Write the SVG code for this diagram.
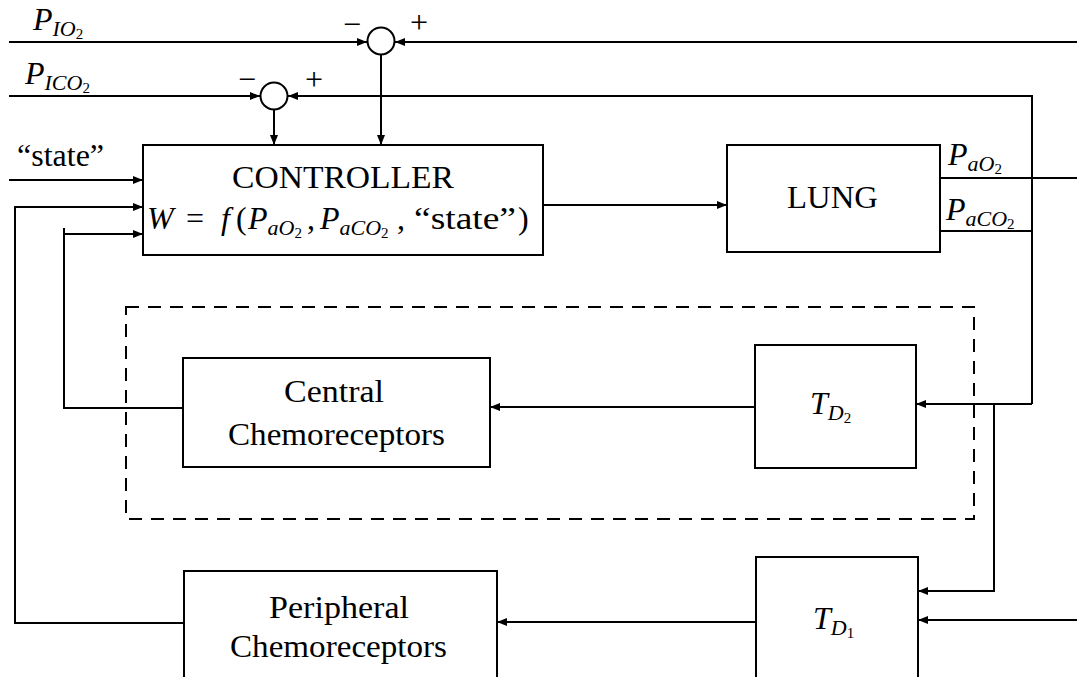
<svg xmlns="http://www.w3.org/2000/svg" width="1077" height="677" viewBox="0 0 1077 677">
<style>
.ln{fill:none;stroke:#000;stroke-width:2}
.bx{fill:#fff;stroke:#000;stroke-width:2}
.ds{fill:none;stroke:#000;stroke-width:2;stroke-dasharray:13 9}
text{font-family:"Liberation Serif","DejaVu Serif",serif;fill:#000}
.t{font-size:32px}
.i{font-style:italic}
.s1{font-size:22px;font-style:italic}
.s2{font-size:15px;font-style:normal}
.sg{font-size:32px;text-anchor:middle}
</style>
<defs>
<marker id="ah" viewBox="0 0 10 8" refX="10" refY="4" markerWidth="10" markerHeight="8" markerUnits="userSpaceOnUse" orient="auto">
<path d="M0,0 L10,4 L0,8 Z" fill="#000"/>
</marker>
</defs>

<g id="connectors">
<path class="ln" d="M9,42 H367" marker-end="url(#ah)"/>
<path class="ln" d="M1077,42 H395" marker-end="url(#ah)"/>
<path class="ln" d="M381,55 V145" marker-end="url(#ah)"/>
<path class="ln" d="M9,96 H260" marker-end="url(#ah)"/>
<path class="ln" d="M1032,404 V96 H288" marker-end="url(#ah)"/>
<path class="ln" d="M274,109 V145" marker-end="url(#ah)"/>
<path class="ln" d="M9,180 H143" marker-end="url(#ah)"/>
<path class="ln" d="M184,623 H15 V207 H143" marker-end="url(#ah)"/>
<path class="ln" d="M183,408 H64 V228"/>
<path class="ln" d="M64,234 H143" marker-end="url(#ah)"/>
<path class="ln" d="M543,205 H727" marker-end="url(#ah)"/>
<path class="ln" d="M940,178 H1077"/>
<path class="ln" d="M940,231 H1032"/>
<path class="ln" d="M1032,404 H916" marker-end="url(#ah)"/>
<path class="ln" d="M994,404 V591 H918" marker-end="url(#ah)"/>
<path class="ln" d="M1077,620 H918" marker-end="url(#ah)"/>
<path class="ln" d="M755,407 H490" marker-end="url(#ah)"/>
<path class="ln" d="M756,622 H497" marker-end="url(#ah)"/>
</g>

<g id="frame">
<rect class="ds" x="126" y="307" width="848" height="212"/>
</g>

<g id="sum-o2">
<circle class="bx" cx="381" cy="41" r="13.5"/>
<text class="sg" x="352" y="35">−</text>
<text class="sg" x="419" y="33">+</text>
</g>
<g id="sum-co2">
<circle class="bx" cx="274" cy="96" r="13.5"/>
<text class="sg" x="247" y="90">−</text>
<text class="sg" x="314" y="90">+</text>
</g>

<g id="labels">
<text class="t" x="33" y="30"><tspan class="i">P</tspan><tspan class="s1" dy="6">IO</tspan><tspan class="s2" dy="3">2</tspan></text>
<text class="t" x="25" y="84"><tspan class="i">P</tspan><tspan class="s1" dy="6">ICO</tspan><tspan class="s2" dy="3">2</tspan></text>
<text class="t" x="17" y="166">“state”</text>
<text class="t" x="948" y="165"><tspan class="i">P</tspan><tspan class="s1" dy="6">aO</tspan><tspan class="s2" dy="3">2</tspan></text>
<text class="t" x="946" y="220"><tspan class="i">P</tspan><tspan class="s1" dy="6">aCO</tspan><tspan class="s2" dy="3">2</tspan></text>
</g>

<g id="controller">
<rect class="bx" x="143" y="145" width="400" height="110"/>
<text class="t" x="232" y="188" textLength="222" lengthAdjust="spacingAndGlyphs">CONTROLLER</text>
<text class="t i" x="147" y="229">W</text>
<text class="t" x="186" y="229">=</text>
<text class="t i" x="221" y="229">f</text>
<text class="t" x="236" y="229">(</text>
<text class="t" x="248" y="229"><tspan class="i">P</tspan><tspan class="s1" dy="6">aO</tspan><tspan class="s2" dy="3">2</tspan></text>
<text class="t" x="307" y="229">,</text>
<text class="t" x="320" y="229"><tspan class="i">P</tspan><tspan class="s1" dy="6">aCO</tspan><tspan class="s2" dy="3">2</tspan></text>
<text class="t" x="397" y="229">,</text>
<text class="t" x="414" y="229" textLength="102" lengthAdjust="spacingAndGlyphs">“state”</text>
<text class="t" x="518" y="229">)</text>
</g>

<g id="lung">
<rect class="bx" x="727" y="145" width="213" height="107"/>
<text class="t" x="787" y="208" textLength="91" lengthAdjust="spacingAndGlyphs">LUNG</text>
</g>

<g id="central">
<rect class="bx" x="183" y="358" width="307" height="109"/>
<text class="t" x="284" y="402" textLength="100" lengthAdjust="spacingAndGlyphs">Central</text>
<text class="t" x="228" y="445" textLength="217" lengthAdjust="spacingAndGlyphs">Chemoreceptors</text>
</g>

<g id="td2">
<rect class="bx" x="755" y="345" width="161" height="123"/>
<text class="t" x="810" y="414"><tspan class="i">T</tspan><tspan class="s1" dy="6">D</tspan><tspan class="s2" dy="3">2</tspan></text>
</g>

<g id="peripheral">
<rect class="bx" x="184" y="571" width="313" height="112"/>
<text class="t" x="269" y="618" textLength="140" lengthAdjust="spacingAndGlyphs">Peripheral</text>
<text class="t" x="230" y="657" textLength="217" lengthAdjust="spacingAndGlyphs">Chemoreceptors</text>
</g>

<g id="td1">
<rect class="bx" x="756" y="557" width="162" height="126"/>
<text class="t" x="813" y="629"><tspan class="i">T</tspan><tspan class="s1" dy="6">D</tspan><tspan class="s2" dy="3">1</tspan></text>
</g>
</svg>
